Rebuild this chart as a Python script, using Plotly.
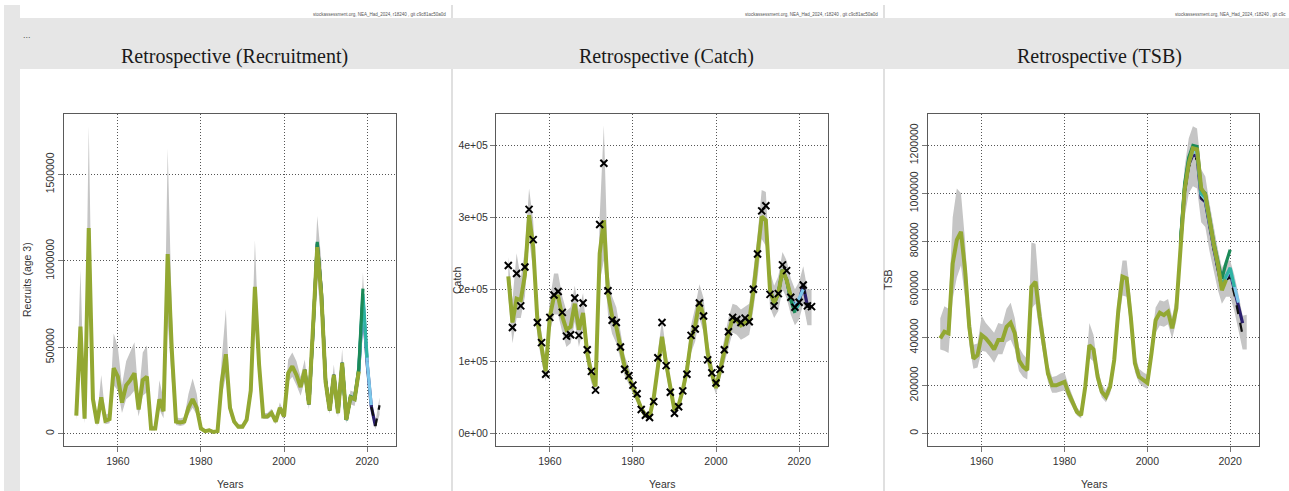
import plotly.graph_objects as go

# ---------------- DATA ----------------
years_main = list(range(1950, 2019))          # last (shortest) peel, olive
years_band = list(range(1950, 2024))
years_band_tsb = list(range(1950, 2025))

# Recruitment (age 3)
rec_main = [105000, 620000, 87000, 1190000, 200000, 60000, 210000, 75000, 85000, 380000,
            330000, 180000, 280000, 310000, 350000, 140000, 310000, 330000, 30000, 30000,
            200000, 130000, 1040000, 480000, 70000, 65000, 70000, 150000, 200000, 150000,
            30000, 15000, 20000, 10000, 15000, 300000, 460000, 150000, 70000, 40000,
            40000, 80000, 250000, 850000, 400000, 100000, 100000, 120000, 70000, 150000,
            100000, 350000, 390000, 340000, 270000, 370000, 170000, 580000, 1080000, 800000,
            300000, 135000, 340000, 120000, 410000, 80000, 210000, 200000, 360000]
rec_lo = [80000, 400000, 60000, 800000, 140000, 45000, 150000, 55000, 60000, 280000,
          250000, 120000, 200000, 220000, 250000, 100000, 220000, 240000, 18000, 18000,
          140000, 90000, 650000, 300000, 50000, 45000, 50000, 110000, 150000, 110000,
          20000, 8000, 12000, 5000, 8000, 220000, 330000, 110000, 55000, 30000,
          30000, 65000, 200000, 650000, 320000, 85000, 85000, 100000, 55000, 125000,
          80000, 300000, 330000, 280000, 220000, 310000, 140000, 500000, 900000, 650000,
          220000, 115000, 280000, 95000, 330000, 60000, 170000, 160000, 290000, 650000,
          330000, 120000, 25000, 110000]
rec_hi = [140000, 950000, 120000, 1780000, 300000, 90000, 340000, 110000, 120000, 580000,
          500000, 280000, 420000, 470000, 530000, 210000, 470000, 510000, 45000, 45000,
          310000, 200000, 1650000, 700000, 95000, 90000, 95000, 230000, 320000, 230000,
          45000, 25000, 30000, 18000, 25000, 430000, 720000, 200000, 90000, 55000,
          55000, 100000, 320000, 1120000, 500000, 120000, 120000, 145000, 90000, 180000,
          125000, 430000, 470000, 420000, 330000, 430000, 210000, 720000, 1260000, 1000000,
          400000, 165000, 400000, 150000, 490000, 100000, 250000, 240000, 440000, 935000,
          480000, 210000, 70000, 210000]
rec_base_years = list(range(2005, 2024))
rec_base = [370000, 170000, 600000, 1100000, 820000, 310000, 135000, 340000, 120000, 410000,
            80000, 210000, 200000, 360000, 760000, 400000, 160000, 45000, 165000]
rec_navy_years = list(range(2005, 2023))
rec_navy = [370000, 170000, 600000, 1100000, 820000, 310000, 135000, 340000, 120000, 410000,
            80000, 210000, 200000, 360000, 770000, 410000, 160000, 45000]
rec_lblue_years = list(range(2014, 2022))
rec_lblue = [410000, 80000, 210000, 200000, 365000, 790000, 420000, 165000]
rec_teal_years = list(range(2014, 2021))
rec_teal = [410000, 80000, 210000, 200000, 370000, 810000, 440000]
rec_green_years = list(range(2005, 2020))
rec_green = [370000, 170000, 600000, 1110000, 820000, 310000, 135000, 340000, 120000, 410000,
             80000, 215000, 205000, 380000, 840000]

# Catch
catch_obs = [233000, 147000, 222000, 177000, 231000, 311000, 269000, 154000, 126000, 82000,
             161000, 192000, 197000, 168000, 135000, 137000, 188000, 136000, 181000, 116000,
             86000, 60000, 290000, 375000, 198000, 157000, 154000, 120000, 89000, 80000,
             67000, 55000, 33000, 25000, 22000, 44000, 105000, 154000, 94000, 57000,
             28000, 37000, 59000, 82000, 136000, 145000, 181000, 163000, 102000, 84000,
             70000, 89000, 116000, 141000, 161000, 158000, 154000, 160000, 155000, 200000,
             249000, 309000, 316000, 193000, 177000, 194000, 234000, 226000, 189000, 175000,
             182000, 206000, 177000, 176000]
catch_main = [218000, 154000, 187000, 185000, 220000, 303000, 259000, 157000, 120000, 86000,
              162000, 190000, 190000, 162000, 144000, 148000, 180000, 144000, 167000, 111000,
              83000, 65000, 250000, 296000, 194000, 162000, 148000, 120000, 93000, 79000,
              65000, 51000, 35000, 25000, 23000, 49000, 97000, 134000, 97000, 60000,
              32000, 39000, 60000, 88000, 130000, 150000, 183000, 162000, 111000, 83000,
              63000, 88000, 116000, 139000, 160000, 157000, 150000, 153000, 157000, 197000,
              245000, 301000, 296000, 199000, 181000, 194000, 227000, 213000, 190000]
catch_lo = [190000, 125000, 160000, 160000, 190000, 270000, 225000, 135000, 100000, 72000,
            140000, 165000, 165000, 140000, 120000, 125000, 155000, 120000, 145000, 95000,
            70000, 55000, 210000, 240000, 165000, 138000, 125000, 103000, 80000, 68000,
            55000, 44000, 29000, 21000, 19000, 42000, 83000, 115000, 83000, 51000,
            27000, 33000, 51000, 75000, 112000, 128000, 160000, 140000, 95000, 72000,
            54000, 76000, 100000, 120000, 140000, 137000, 130000, 133000, 137000, 172000,
            215000, 270000, 260000, 175000, 160000, 170000, 200000, 188000, 165000, 150000,
            158000, 180000, 150000, 150000]
catch_hi = [245000, 185000, 250000, 215000, 255000, 340000, 295000, 180000, 140000, 100000,
            185000, 222000, 222000, 190000, 170000, 175000, 205000, 170000, 195000, 130000,
            97000, 77000, 300000, 428000, 225000, 190000, 175000, 140000, 108000, 92000,
            75000, 60000, 40000, 30000, 27000, 57000, 113000, 158000, 113000, 70000,
            37000, 45000, 70000, 103000, 150000, 175000, 207000, 188000, 130000, 98000,
            74000, 102000, 135000, 160000, 180000, 178000, 172000, 176000, 180000, 225000,
            275000, 338000, 335000, 225000, 205000, 218000, 252000, 240000, 215000, 200000,
            210000, 232000, 200000, 200000]
catch_base_years = list(range(2013, 2024))
catch_base = [199000, 181000, 194000, 227000, 213000, 188000, 177000, 183000, 205000, 176000, 176000]
catch_navy_years = list(range(2013, 2023))
catch_navy = [199000, 181000, 194000, 227000, 213000, 188000, 177000, 183000, 206000, 177000]
catch_lblue_years = list(range(2013, 2022))
catch_lblue = [199000, 181000, 194000, 227000, 213000, 187000, 175000, 188000, 200000]
catch_teal_years = list(range(2013, 2021))
catch_teal = [199000, 181000, 194000, 227000, 213000, 186000, 170000, 180000]
catch_green_years = list(range(2013, 2020))
catch_green = [199000, 181000, 194000, 227000, 213000, 185000, 167000]

# TSB
tsb_years_main = list(range(1950, 2020))
tsb_main = [396000, 424000, 417000, 708000, 806000, 840000, 680000, 444000, 312000, 326000,
            410000, 396000, 375000, 350000, 389000, 389000, 444000, 461000, 417000, 305000,
            278000, 264000, 611000, 632000, 486000, 361000, 250000, 201000, 201000, 208000,
            215000, 167000, 125000, 90000, 76000, 194000, 368000, 350000, 236000, 174000,
            153000, 194000, 306000, 514000, 653000, 646000, 486000, 292000, 236000, 225000,
            211000, 333000, 472000, 503000, 493000, 507000, 438000, 521000, 792000, 1014000,
            1125000, 1188000, 1183000, 1021000, 993000, 889000, 792000, 708000, 597000, 640000]
tsb_lo = [350000, 345000, 335000, 560000, 650000, 700000, 560000, 370000, 270000, 275000,
          345000, 340000, 320000, 295000, 330000, 330000, 380000, 390000, 350000, 260000,
          235000, 225000, 520000, 540000, 420000, 310000, 215000, 170000, 170000, 175000,
          180000, 140000, 105000, 75000, 62000, 165000, 315000, 300000, 200000, 150000,
          130000, 165000, 265000, 450000, 575000, 570000, 425000, 255000, 210000, 195000,
          185000, 295000, 420000, 450000, 445000, 455000, 395000, 470000, 710000, 900000,
          1000000, 1030000, 1020000, 880000, 860000, 760000, 680000, 600000, 540000, 570000,
          570000, 510000, 430000, 350000, 350000]
tsb_hi = [480000, 530000, 520000, 900000, 1020000, 1000000, 800000, 520000, 370000, 375000,
          490000, 460000, 440000, 420000, 460000, 455000, 520000, 545000, 480000, 360000,
          330000, 310000, 795000, 790000, 570000, 420000, 290000, 235000, 240000, 250000,
          255000, 200000, 150000, 108000, 90000, 230000, 460000, 410000, 275000, 205000,
          180000, 225000, 355000, 590000, 720000, 720000, 560000, 335000, 270000, 255000,
          245000, 380000, 525000, 555000, 550000, 560000, 485000, 575000, 870000, 1110000,
          1230000, 1280000, 1270000, 1100000, 1070000, 960000, 860000, 770000, 690000, 720000,
          720000, 660000, 580000, 490000, 495000]
tsb_base_years = list(range(2008, 2025))
tsb_base = [785000, 1000000, 1110000, 1145000, 1145000, 985000, 965000, 860000, 770000, 685000,
            600000, 640000, 650000, 580000, 500000, 410000, 415000]
tsb_navy_years = list(range(2008, 2024))
tsb_navy = [790000, 1010000, 1120000, 1160000, 1155000, 980000, 965000, 865000, 775000, 690000,
            605000, 645000, 670000, 600000, 530000, 460000]
tsb_lblue_years = list(range(2008, 2023))
tsb_lblue = [792000, 1020000, 1130000, 1175000, 1170000, 995000, 975000, 875000, 785000, 700000,
             610000, 650000, 685000, 615000, 545000]
tsb_teal_years = list(range(2008, 2022))
tsb_teal = [795000, 1030000, 1140000, 1190000, 1185000, 1000000, 985000, 880000, 790000, 705000,
            615000, 655000, 690000, 610000]
tsb_green_years = list(range(2008, 2021))
tsb_green = [800000, 1040000, 1150000, 1200000, 1195000, 1015000, 1000000, 900000, 800000, 720000,
             645000, 710000, 765000]

x_ticks = [1960, 1980, 2000, 2020]
rec_ticks = [0, 500000, 1000000, 1500000]
rec_ticktext = ["0", "500000", "1000000", "1500000"]
catch_ticks = [0, 100000, 200000, 300000, 400000]
catch_ticktext = ["0e+00", "1e+05", "2e+05", "3e+05", "4e+05"]
tsb_ticks = [0, 200000, 400000, 600000, 800000, 1000000, 1200000]
tsb_ticktext = ["0", "200000", "400000", "600000", "800000", "1000000", "1200000"]

titles = ["Retrospective (Recruitment)", "Retrospective (Catch)", "Retrospective (TSB)"]
ylabels = ["Recruits (age 3)", "Catch", "TSB"]
header_texts = ["stockassessment.org, NEA_Had_2024, r18240 , git c9c81ac50a0d",
                "stockassessment.org, NEA_Had_2024, r18240 , git c9c81ac50a0d",
                "stockassessment.org, NEA_Had_2024, r18240 , git c9c"]

# ---------------- STYLE / LAYOUT ----------------
W, H = 1289, 491
def px(x): return x / W
def py(y): return 1 - y / H

OLIVE = "#93a832"
GREEN = "#1b8a58"
TEAL = "#2fb3a3"
LBLUE = "#7cc6ea"
NAVY = "#2b1f6e"
BAND = "#c5c5c5"

fig = go.Figure()

def add_panel(i, band_x, lo, hi, main_x, main_y, peels, base):
    xa = "x" if i == 1 else f"x{i}"
    ya = "y" if i == 1 else f"y{i}"
    fig.add_trace(go.Scatter(x=band_x, y=lo, mode="lines", line=dict(width=0),
                             hoverinfo="skip", showlegend=False, xaxis=xa, yaxis=ya))
    fig.add_trace(go.Scatter(x=band_x, y=hi, mode="lines", line=dict(width=0),
                             fill="tonexty", fillcolor=BAND, hoverinfo="skip",
                             showlegend=False, xaxis=xa, yaxis=ya))
    navy, lblue, teal, green = peels
    fig.add_trace(go.Scatter(x=navy[0], y=navy[1], mode="lines", line=dict(color=NAVY, width=3.2),
                             showlegend=False, xaxis=xa, yaxis=ya))
    fig.add_trace(go.Scatter(x=base[0], y=base[1], mode="lines",
                             line=dict(color="#111111", width=2.2, dash="dash"),
                             showlegend=False, xaxis=xa, yaxis=ya))
    for (xs, ys), col in [(lblue, LBLUE), (teal, TEAL), (green, GREEN)]:
        fig.add_trace(go.Scatter(x=xs, y=ys, mode="lines", line=dict(color=col, width=3.2),
                                 showlegend=False, xaxis=xa, yaxis=ya))
    fig.add_trace(go.Scatter(x=main_x, y=main_y, mode="lines", line=dict(color=OLIVE, width=4),
                             showlegend=False, xaxis=xa, yaxis=ya))

add_panel(1, years_band, rec_lo, rec_hi, years_main, rec_main,
          [(rec_navy_years, rec_navy), (rec_lblue_years, rec_lblue),
           (rec_teal_years, rec_teal), (rec_green_years, rec_green)],
          (rec_base_years, rec_base))
add_panel(2, years_band, catch_lo, catch_hi, years_main, catch_main,
          [(catch_navy_years, catch_navy), (catch_lblue_years, catch_lblue),
           (catch_teal_years, catch_teal), (catch_green_years, catch_green)],
          (catch_base_years, catch_base))
fig.add_trace(go.Scatter(x=years_band, y=catch_obs, mode="markers",
                         marker=dict(symbol="x-thin", size=7, color="black",
                                     line=dict(color="black", width=2)),
                         showlegend=False, xaxis="x2", yaxis="y2"))
add_panel(3, years_band_tsb, tsb_lo, tsb_hi, tsb_years_main, tsb_main,
          [(tsb_navy_years, tsb_navy), (tsb_lblue_years, tsb_lblue),
           (tsb_teal_years, tsb_teal), (tsb_green_years, tsb_green)],
          (tsb_base_years, tsb_base))

panels_x = [(64, 396), (496, 828), (928, 1259)]
panel_y = (114, 446)
yranges = [[-71000, 1850000], [-17600, 443500], [-52000, 1330500]]
ytv = [(rec_ticks, rec_ticktext, -90), (catch_ticks, catch_ticktext, 0), (tsb_ticks, tsb_ticktext, -90)]

axis_font = dict(family="Liberation Sans, Arial, sans-serif", size=10.5, color="#333333")
layout = dict(width=W, height=H, autosize=False, margin=dict(l=0, r=0, t=0, b=0),
              paper_bgcolor="white", plot_bgcolor="white", showlegend=False)
for i in range(3):
    k = "" if i == 0 else str(i + 1)
    x0, x1 = panels_x[i]
    common = dict(showline=True, mirror=True, linecolor="#5a5a5a", linewidth=1,
                  ticks="outside", ticklen=5, tickcolor="#777777",
                  showgrid=True, gridcolor="#555555", griddash="1px,2px", gridwidth=1,
                  zeroline=False, tickfont=axis_font)
    layout["xaxis" + k] = dict(domain=[px(x0), px(x1)], range=[1947.04, 2026.96],
                               tickvals=x_ticks, anchor="y" + k, **common)
    tv, tt, ang = ytv[i]
    layout["yaxis" + k] = dict(domain=[py(panel_y[1]), py(panel_y[0])], range=yranges[i],
                               tickvals=tv, ticktext=tt, tickangle=ang, anchor="x" + k, **common)

shapes = [
    dict(type="rect", xref="paper", yref="paper", x0=px(4), x1=px(20), y0=0, y1=py(5),
         fillcolor="#e6e6e6", line=dict(width=0), layer="below"),
    dict(type="rect", xref="paper", yref="paper", x0=px(451), x1=px(453), y0=0, y1=py(5),
         fillcolor="#e0e0e0", line=dict(width=0), layer="below"),
    dict(type="rect", xref="paper", yref="paper", x0=px(883), x1=px(885), y0=0, y1=py(5),
         fillcolor="#e0e0e0", line=dict(width=0), layer="below"),
    dict(type="rect", xref="paper", yref="paper", x0=px(20), x1=1, y0=py(69), y1=py(18),
         fillcolor="#e6e6e6", line=dict(width=0), layer="below"),
]
layout["shapes"] = shapes

ann = []
title_cx = [235, 666, 1099]
ylab_x = [27, 457, 888]
for i in range(3):
    ann.append(dict(text=titles[i], x=px(title_cx[i]), y=py(57), xref="paper", yref="paper",
                    showarrow=False, xanchor="center", yanchor="middle",
                    font=dict(family="Liberation Serif, Times New Roman, serif", size=20, color="#1a1a1a")))
    ann.append(dict(text=ylabels[i], x=px(ylab_x[i]), y=py(280), xref="paper", yref="paper",
                    showarrow=False, textangle=-90, xanchor="center", yanchor="middle",
                    font=dict(family="Liberation Sans, Arial, sans-serif", size=10.5, color="#333333")))
    cx = (panels_x[i][0] + panels_x[i][1]) / 2
    ann.append(dict(text="Years", x=px(cx), y=py(484), xref="paper", yref="paper",
                    showarrow=False, xanchor="center", yanchor="middle",
                    font=dict(family="Liberation Sans, Arial, sans-serif", size=10.5, color="#333333")))
for xr, txt in zip([448, 880, 1288], header_texts):
    ann.append(dict(text=txt, x=px(xr), y=py(14), xref="paper", yref="paper",
                    showarrow=False, xanchor="right", yanchor="middle",
                    font=dict(family="Liberation Sans, Arial, sans-serif", size=4.5, color="#555555")))
ann.append(dict(text="...", x=px(21), y=py(35), xref="paper", yref="paper", showarrow=False,
                xanchor="left", yanchor="middle",
                font=dict(family="Liberation Sans, Arial, sans-serif", size=9, color="#555555")))
layout["annotations"] = ann

fig.update_layout(**layout)
fig.write_html("out.html", config={"displayModeBar": False},
               post_script="document.body.style.margin='0';document.body.style.overflow='hidden';")
